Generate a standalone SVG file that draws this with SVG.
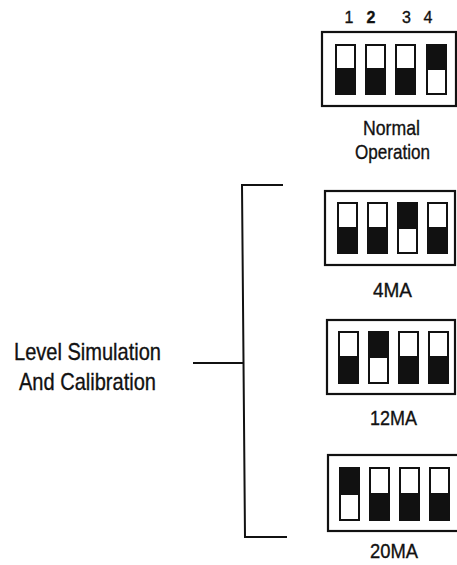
<svg xmlns="http://www.w3.org/2000/svg" width="457" height="565" viewBox="0 0 457 565">
<defs>
<style>
text{font-family:"Liberation Sans",Arial,sans-serif;fill:#111;stroke:#111;stroke-width:0.35;}
.box{fill:none;stroke:#111;stroke-width:2.2;}
.sw{fill:#fff;stroke:#111;stroke-width:2;}
.on{fill:#111;stroke:#111;stroke-width:2;}
.lbl{font-size:21px;text-anchor:middle;}
.num{font-size:16px;text-anchor:middle;}
.ln{fill:none;stroke:#111;stroke-width:2;}
</style>
</defs>
<rect width="457" height="565" fill="#fff"/>
<g id="normal">
<text class="num" x="349" y="23">1</text>
<text class="num" x="371" y="23" font-weight="bold">2</text>
<text class="num" x="406.5" y="23">3</text>
<text class="num" x="428" y="23">4</text>
<rect class="box" x="322" y="32" width="134" height="74"/>
<rect class="sw" x="336" y="45" width="19" height="49"/><rect class="on" x="336" y="69" width="19" height="25"/>
<rect class="sw" x="366" y="45" width="19" height="49"/><rect class="on" x="366" y="69" width="19" height="25"/>
<rect class="sw" x="396" y="45" width="19" height="49"/><rect class="on" x="396" y="69" width="19" height="25"/>
<rect class="sw" x="427" y="45" width="19" height="49"/><rect class="on" x="427" y="45" width="19" height="24"/>
<text class="lbl" x="391.5" y="135" textLength="57" lengthAdjust="spacingAndGlyphs">Normal</text>
<text class="lbl" x="392.5" y="159" textLength="75" lengthAdjust="spacingAndGlyphs">Operation</text>
</g>
<g id="ma4">
<rect class="box" x="325" y="191" width="130" height="74"/>
<rect class="sw" x="338" y="203" width="19" height="50"/><rect class="on" x="338" y="228" width="19" height="25"/>
<rect class="sw" x="368" y="203" width="19" height="50"/><rect class="on" x="368" y="228" width="19" height="25"/>
<rect class="sw" x="398" y="203" width="19" height="50"/><rect class="on" x="398" y="203" width="19" height="25"/>
<rect class="sw" x="428" y="203" width="19" height="50"/><rect class="on" x="428" y="228" width="19" height="25"/>
<text class="lbl" x="392.5" y="297" textLength="39" lengthAdjust="spacingAndGlyphs">4MA</text>
</g>
<g id="ma12">
<rect class="box" x="327" y="320" width="128" height="74"/>
<rect class="sw" x="339" y="332" width="19" height="51"/><rect class="on" x="339" y="357" width="19" height="26"/>
<rect class="sw" x="369" y="332" width="19" height="51"/><rect class="on" x="369" y="332" width="19" height="25"/>
<rect class="sw" x="399" y="332" width="19" height="51"/><rect class="on" x="399" y="357" width="19" height="26"/>
<rect class="sw" x="429" y="332" width="19" height="51"/><rect class="on" x="429" y="357" width="19" height="26"/>
<text class="lbl" x="393.5" y="425" textLength="47" lengthAdjust="spacingAndGlyphs">12MA</text>
</g>
<g id="ma20">
<rect class="box" x="328" y="455" width="132" height="76"/>
<rect class="sw" x="340" y="468" width="19" height="52"/><rect class="on" x="340" y="468" width="19" height="26"/>
<rect class="sw" x="370" y="468" width="19" height="52"/><rect class="on" x="370" y="494" width="19" height="26"/>
<rect class="sw" x="400" y="468" width="19" height="52"/><rect class="on" x="400" y="494" width="19" height="26"/>
<rect class="sw" x="430" y="468" width="19" height="52"/><rect class="on" x="430" y="494" width="19" height="26"/>
<text class="lbl" x="394" y="558" textLength="48" lengthAdjust="spacingAndGlyphs">20MA</text>
</g>
<g id="level">
<text font-size="24" text-anchor="middle" x="87.5" y="360" textLength="147" lengthAdjust="spacingAndGlyphs">Level Simulation</text>
<text font-size="24" text-anchor="middle" x="87.5" y="390" textLength="137" lengthAdjust="spacingAndGlyphs">And Calibration</text>
</g>
<g id="connectors">
<polyline class="ln" points="283,185 242,185 245,537 287,537"/>
<line class="ln" x1="193" y1="363" x2="243.5" y2="363"/>
</g>
</svg>
